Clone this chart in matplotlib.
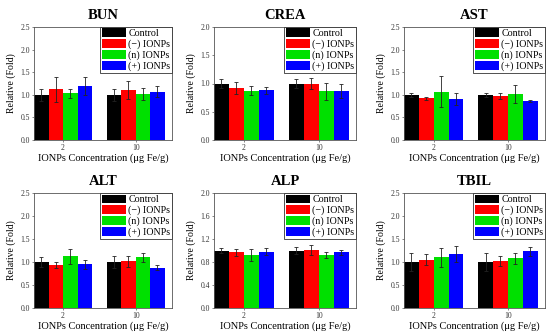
import numpy as np
import matplotlib.pyplot as plt

plt.rcParams['font.family'] = ['Liberation Serif', 'DejaVu Serif']

groups = ['2', '10']
series = ['Control', '(\u2212) IONPs', '(n) IONPs', '(+) IONPs']
colors = ['#000000', '#ff0000', '#00e000', '#0000ff']

panels = ['BUN', 'CREA', 'AST', 'ALT', 'ALP', 'TBIL']

# mean values per series, [dose 2, dose 10]
means = {
    'BUN':  [[1.00, 1.00], [1.12, 1.10], [1.03, 1.02], [1.20, 1.07]],
    'CREA': [[1.00, 1.00], [0.92, 1.00], [0.87, 0.86], [0.88, 0.87]],
    'AST':  [[1.00, 1.00], [0.92, 0.97], [1.07, 1.01], [0.90, 0.86]],
    'ALT':  [[1.00, 1.00], [0.94, 1.02], [1.12, 1.10], [0.95, 0.88]],
    'ALP':  [[1.00, 1.00], [0.97, 1.01], [0.92, 0.92], [0.98, 0.97]],
    'TBIL': [[1.00, 1.00], [1.05, 1.02], [1.10, 1.08], [1.17, 1.23]],
}
errors = {
    'BUN':  [[0.13, 0.13], [0.27, 0.20], [0.10, 0.14], [0.20, 0.12]],
    'CREA': [[0.08, 0.08], [0.10, 0.10], [0.08, 0.15], [0.06, 0.13]],
    'AST':  [[0.04, 0.05], [0.04, 0.06], [0.35, 0.20], [0.13, 0.03]],
    'ALT':  [[0.10, 0.12], [0.07, 0.12], [0.16, 0.10], [0.10, 0.05]],
    'ALP':  [[0.05, 0.06], [0.06, 0.09], [0.10, 0.05], [0.06, 0.04]],
    'TBIL': [[0.20, 0.20], [0.12, 0.10], [0.20, 0.12], [0.18, 0.10]],
}
ylims = {'BUN': 2.5, 'CREA': 2.0, 'AST': 2.5, 'ALT': 2.5, 'ALP': 2.0, 'TBIL': 2.5}
ysteps = {'BUN': 0.5, 'CREA': 0.5, 'AST': 0.5, 'ALT': 0.5, 'ALP': 0.4, 'TBIL': 0.5}

W, H = 550, 336
cols = [(34, 172), (214, 356), (404, 545)]
rows = [(27, 140), (193, 308)]

figure = plt.figure(figsize=(W / 100, H / 100), dpi=100)

x = np.arange(len(groups))
width = 0.2

for k, name in enumerate(panels):
    (x0, x1), (y0, y1) = cols[k % 3], rows[k // 3]
    ax = figure.add_axes([x0 / W, 1 - y1 / H, (x1 - x0) / W, (y1 - y0) / H])

    for i, label in enumerate(series):
        ax.bar(x + (i - 1.5) * width, means[name][i], width,
               yerr=errors[name][i], color=colors[i], label=label,
               error_kw=dict(ecolor='#222222', elinewidth=0.6, capsize=1.5,
                             capthick=0.6))

    ax.set_xlim(-0.4, 1.5)
    ax.set_ylim(0, ylims[name])
    ax.set_yticks(np.arange(0, ylims[name] + 1e-6, ysteps[name]))
    ax.yaxis.set_major_formatter(plt.FormatStrFormatter('%.1f'))
    ax.set_xticks(x)
    ax.set_xticklabels(groups)
    ax.tick_params(labelsize=5.5, length=1.5, width=0.5, pad=1.5,
                   colors='#555555', labelcolor='#333333')
    for s in ax.spines.values():
        s.set_linewidth(0.6)
        s.set_color('#555555')

    ax.set_title(name, fontsize=10.5, fontweight='bold', pad=6)
    ax.set_ylabel('Relative (Fold)', fontsize=7, labelpad=3)
    ax.set_xlabel('IONPs Concentration (\u03bcg Fe/g)', fontsize=7.5, labelpad=1)

    leg = ax.legend(loc='upper right', fontsize=7.2, handlelength=2.4,
                    handleheight=1.0, labelspacing=0.08, borderpad=0.15,
                    handletextpad=0.25, borderaxespad=0.0, fancybox=False,
                    framealpha=1)
    leg.get_frame().set_edgecolor('#333333')
    leg.get_frame().set_linewidth(0.6)

figure.savefig('out.png', dpi=100)
